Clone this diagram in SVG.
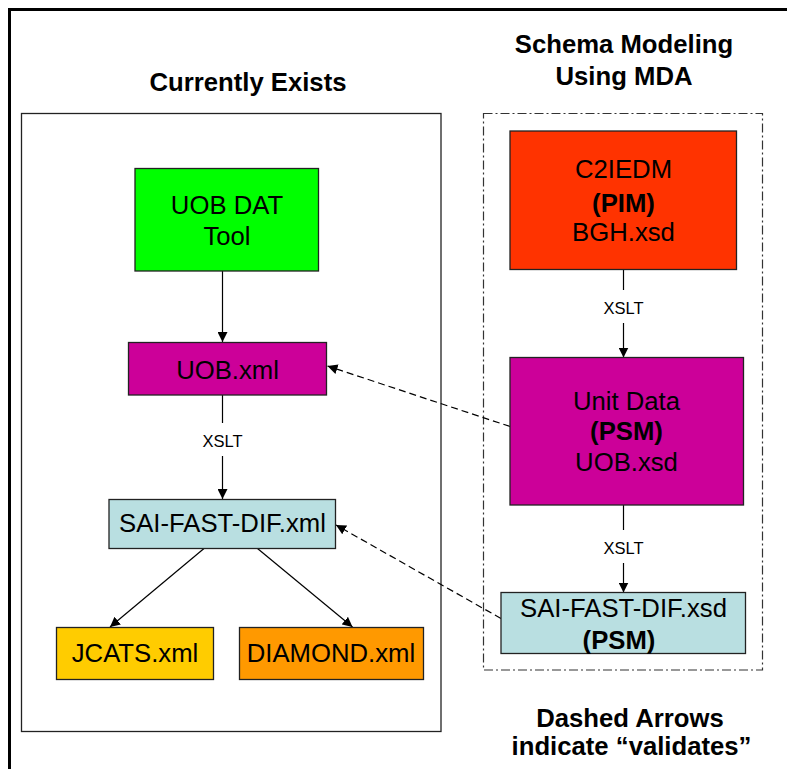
<svg xmlns="http://www.w3.org/2000/svg" width="787" height="769" viewBox="0 0 787 769">
<defs>
<style>
.t{font-family:"Liberation Sans",Arial,sans-serif;font-size:25.7px;fill:#000;text-anchor:middle}
.b{font-weight:bold}
.h{font-family:"Liberation Sans",Arial,sans-serif;font-size:25.7px;font-weight:bold;fill:#000;text-anchor:middle}
.lbl{font-family:"Liberation Sans",Arial,sans-serif;font-size:16.5px;fill:#000;text-anchor:middle}
.node{stroke:#222;stroke-width:1.3}
.solid{stroke:#000;stroke-width:1.2;fill:none}
.dash{stroke:#000;stroke-width:1.2;fill:none;stroke-dasharray:7 4}
</style>
<marker id="ah" viewBox="0 0 10 10" refX="10" refY="5" markerWidth="10" markerHeight="10" markerUnits="userSpaceOnUse" orient="auto">
<path d="M0,0 L10,5 L0,10 z" fill="#000"/>
</marker>
</defs>
<rect x="0" y="0" width="787" height="769" fill="#fff"/>
<rect x="9.5" y="9.5" width="800" height="800" fill="none" stroke="#000" stroke-width="3"/>

<g id="frame-left">
<rect x="21.5" y="113.5" width="419.5" height="618" fill="none" stroke="#222" stroke-width="1.3"/>
<text class="h" x="248" y="91">Currently Exists</text>
</g>
<g id="frame-right">
<rect x="483.5" y="113.5" width="279" height="556.5" fill="none" stroke="#333" stroke-width="1.2" stroke-dasharray="9 3 2 3"/>
<text class="h" x="624" y="53">Schema Modeling</text>
<text class="h" x="624" y="85">Using MDA</text>
</g>

<g id="connectors">
<line class="solid" x1="222.5" y1="271" x2="222.5" y2="342" marker-end="url(#ah)"/>
<line class="solid" x1="222.5" y1="395" x2="222.5" y2="423"/>
<text class="lbl" x="222.5" y="446.5">XSLT</text>
<line class="solid" x1="222.5" y1="456" x2="222.5" y2="499" marker-end="url(#ah)"/>
<line class="solid" x1="204" y1="548.5" x2="110" y2="627" marker-end="url(#ah)"/>
<line class="solid" x1="257.5" y1="548.5" x2="352.5" y2="627" marker-end="url(#ah)"/>
<line class="solid" x1="623.5" y1="269.5" x2="623.5" y2="290"/>
<text class="lbl" x="623.5" y="314">XSLT</text>
<line class="solid" x1="623.5" y1="323" x2="623.5" y2="357.5" marker-end="url(#ah)"/>
<line class="solid" x1="623.5" y1="505" x2="623.5" y2="530"/>
<text class="lbl" x="623.5" y="554">XSLT</text>
<line class="solid" x1="623.5" y1="563" x2="623.5" y2="592.5" marker-end="url(#ah)"/>
<line class="dash" x1="510" y1="426.5" x2="327.5" y2="366" marker-end="url(#ah)"/>
<line class="dash" x1="501" y1="618.5" x2="336" y2="525" marker-end="url(#ah)"/>
</g>

<g id="uob-dat-tool">
<rect class="node" x="135" y="168.5" width="183.5" height="102.5" fill="#00FF00"/>
<text class="t" x="227" y="214">UOB DAT</text>
<text class="t" x="227" y="245">Tool</text>
</g>
<g id="uob-xml">
<rect class="node" x="128.5" y="342.5" width="198" height="52.5" fill="#CC0099"/>
<text class="t" x="227.5" y="379">UOB.xml</text>
</g>
<g id="sai-fast-dif-xml">
<rect class="node" x="109" y="499.5" width="226.5" height="49" fill="#B9DFE1"/>
<text class="t" x="222.5" y="531.5">SAI-FAST-DIF.xml</text>
</g>
<g id="jcats-xml">
<rect class="node" x="56.5" y="627.5" width="157" height="52" fill="#FFCC00"/>
<text class="t" x="135" y="661.5">JCATS.xml</text>
</g>
<g id="diamond-xml">
<rect class="node" x="239.5" y="627.5" width="184" height="52" fill="#FF9900"/>
<text class="t" x="331" y="661.5">DIAMOND.xml</text>
</g>
<g id="c2iedm">
<rect class="node" x="510" y="131" width="226.5" height="138.5" fill="#FF3300"/>
<text class="t" x="623.5" y="178">C2IEDM</text>
<text class="t b" x="623.5" y="211.5">(PIM)</text>
<text class="t" x="623.5" y="241">BGH.xsd</text>
</g>
<g id="unit-data">
<rect class="node" x="510" y="357.5" width="233.5" height="147.5" fill="#CC0099"/>
<text class="t" x="626.5" y="410">Unit Data</text>
<text class="t b" x="626.5" y="440">(PSM)</text>
<text class="t" x="626.5" y="470.5">UOB.xsd</text>
</g>
<g id="sai-fast-dif-xsd">
<rect class="node" x="501" y="592.5" width="244.5" height="61" fill="#B9DFE1"/>
<text class="t" x="623.5" y="616.5">SAI-FAST-DIF.xsd</text>
<text class="t b" x="619" y="649">(PSM)</text>
</g>
<g id="legend">
<text class="h" x="630" y="727">Dashed Arrows</text>
<text class="h" x="631.5" y="755">indicate “validates”</text>
</g>
</svg>
